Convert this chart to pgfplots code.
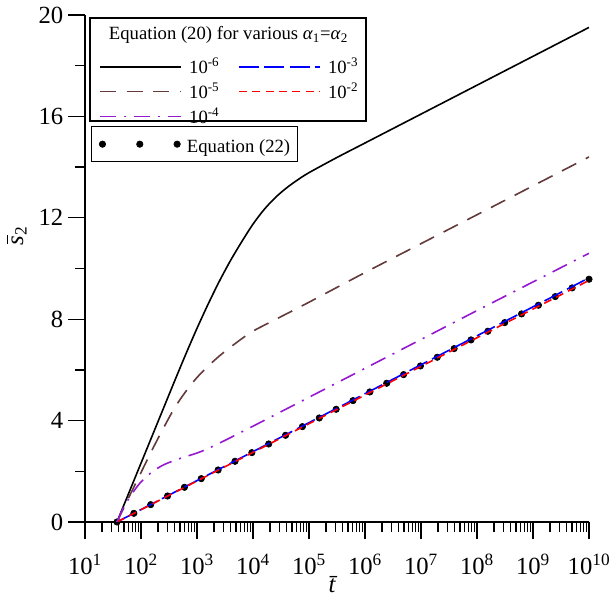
\documentclass[border=0pt]{standalone}
\usepackage{fontspec}
\setmainfont{Liberation Serif}
\usepackage{pgfplots}
\pgfplotsset{compat=1.18}
\definecolor{cbrown}{RGB}{100,58,58}
\definecolor{cpurple}{RGB}{150,25,210}
\newcommand{\sbar}{\textit{s}\llap{\raisebox{0.6em}{\rule{0.34em}{0.05em}}\kern-0.03em}}
\begin{document}
\begin{tikzpicture}
% --- Equation (22) dots (drawn first, below the lines)
\begin{axis}[scale only axis, width=378pt, height=380.25pt,
  xmode=log, xmin=10, xmax=1e10, ymin=0, ymax=20,
  hide axis, clip=false,
  legend style={at={(rel axis cs:0.0119,0.7811)}, anchor=north west, draw=black, line width=1pt,
    font=\fontsize{14}{16.8}\selectfont, inner xsep=5.7pt, inner ysep=5.5pt,
    nodes={inner sep=0pt}, /tikz/every odd column/.append style={column sep=5pt}},
]
\addplot[only marks, mark=*, mark size=2.4pt, black, line width=0.5pt,
  legend image code/.code={\draw plot[only marks] coordinates {(0pt,0pt) (28pt,0pt) (56pt,0pt)};}]
coordinates {
(37.25,0) (74.5,0.342) (149,0.684) (298,1.026) (596,1.368) (1192,1.71) (2384,2.052)
(4768,2.394) (9536,2.736) (19072,3.078) (38144,3.42) (76288,3.762) (152576,4.104)
(305152,4.446) (610304,4.788) (1220608,5.13) (2441216,5.472) (4882432,5.814)
(9764864,6.156) (19529728,6.498) (39059456,6.84) (78118912,7.182) (156237824,7.524)
(312475648,7.866) (624951296,8.208) (1249902592,8.55) (2499805184,8.892)
(4999610368,9.234) (9999220736,9.576)
};
\addlegendentry{\rule[-3pt]{0pt}{16.8pt}Equation (22)}
\end{axis}
% --- main axis, Equation (20)
\begin{axis}[scale only axis, width=378pt, height=380.25pt,
  xmode=log, xmin=10, xmax=1e10, ymin=0, ymax=20,
  axis lines*=left, axis line style={line width=1pt},
  tick align=outside, major tick length=12.75pt, minor tick length=7.5pt,
  every tick/.style={line width=1pt, black},
  xtick={1e1,1e2,1e3,1e4,1e5,1e6,1e7,1e8,1e9,1e10},
  xticklabels={10\textsuperscript{1},10\textsuperscript{2},10\textsuperscript{3},10\textsuperscript{4},10\textsuperscript{5},10\textsuperscript{6},10\textsuperscript{7},10\textsuperscript{8},10\textsuperscript{9},10\textsuperscript{10}},
  minor xtick={2e1,3e1,4e1,5e1,6e1,7e1,8e1,9e1,
    2e2,3e2,4e2,5e2,6e2,7e2,8e2,9e2,
    2e3,3e3,4e3,5e3,6e3,7e3,8e3,9e3,
    2e4,3e4,4e4,5e4,6e4,7e4,8e4,9e4,
    2e5,3e5,4e5,5e5,6e5,7e5,8e5,9e5,
    2e6,3e6,4e6,5e6,6e6,7e6,8e6,9e6,
    2e7,3e7,4e7,5e7,6e7,7e7,8e7,9e7,
    2e8,3e8,4e8,5e8,6e8,7e8,8e8,9e8,
    2e9,3e9,4e9,5e9,6e9,7e9,8e9,9e9},
  ytick={0,4,8,12,16,20}, minor ytick={2,6,10,14,18},
  tick label style={font=\fontsize{18.5}{22}\selectfont},
  xticklabel style={yshift=-8pt},
  /pgf/number format/assume math mode=true,
  xlabel={\textit{\=t}}, ylabel={\sbar\textsubscript{2}},
  label style={font=\fontsize{18.5}{22}\selectfont},
  xlabel style={at={(axis description cs:0.496,-0.14)}, anchor=base},
  ylabel style={at={(axis description cs:-0.135,0.564)}, anchor=center},
  legend columns=2, legend cell align=left,
  legend style={at={(rel axis cs:0.00992,0.917)}, anchor=north west, draw=none, fill=none,
    font=\fontsize{14}{16.8}\selectfont, inner xsep=6.75pt, inner ysep=0.5pt, row sep=5.4pt,
    nodes={inner sep=0pt},
    /tikz/every odd column/.append style={column sep=5.5pt},
    /tikz/every even column/.append style={column sep=14pt}},
  legend image code/.code={\draw (0pt,0pt) -- (60.75pt,0pt);},
]
% 1e-6
\addplot[black, line width=1.2pt, smooth] coordinates {
(37.24,0) (63.1,1.24) (100,2.32) (158.5,3.4) (251.2,4.48) (398.1,5.56) (631,6.62)
(1000,7.64) (1585,8.6) (2512,9.5) (3981,10.32) (6310,11.06) (10000,11.75)
(15849,12.33) (25119,12.8) (39811,13.18) (63096,13.5) (1e5,13.78) (316228,14.38)
(1e6,14.95) (1e7,16.09) (1e8,17.23) (1e9,18.37) (1e10,19.51)
};
\addlegendentry{\rule[-2.7pt]{0pt}{13.7pt}10\textsuperscript{-6}}
% 1e-3
\addplot[blue, line width=1.2pt, dash pattern=on 15pt off 4pt] coordinates {
(37.24,0) (1e10,9.63)
};
\addlegendentry{\rule[-2.7pt]{0pt}{13.7pt}10\textsuperscript{-3}}
% 1e-5
\addplot[cbrown, line width=1.2pt, dash pattern=on 12pt off 8pt, smooth] coordinates {
(37.24,0) (63.1,1.05) (100,1.95) (158.5,2.85) (251.2,3.7) (398.1,4.5) (631,5.15)
(1000,5.7) (1585,6.15) (2512,6.55) (3981,6.9) (6310,7.23) (10000,7.53) (31623,8.1)
(1e5,8.67) (1e6,9.84) (1e7,10.98) (1e8,12.12) (1e9,13.26) (1e10,14.4)
};
\addlegendentry{\rule[-2.7pt]{0pt}{13.7pt}10\textsuperscript{-5}}
% 1e-2
\addplot[red, line width=1.2pt, dash pattern=on 6pt off 4pt] coordinates {
(37.24,0) (1e10,9.53)
};
\addlegendentry{\rule[-2.7pt]{0pt}{13.7pt}10\textsuperscript{-2}}
% 1e-4
\addplot[cpurple, line width=1.2pt, dash pattern=on 12pt off 6pt on 1.5pt off 6pt, smooth] coordinates {
(37.24,0) (50.1,0.62) (70.8,1.15) (100,1.58) (158.5,1.98) (251.2,2.25) (398.1,2.43)
(631,2.58) (1000,2.72) (1585,2.9) (3162,3.22) (10000,3.78) (1e5,4.92) (1e6,6.06)
(1e7,7.2) (1e8,8.34) (1e9,9.47) (1e10,10.6)
};
\addlegendentry{\rule[-2.7pt]{0pt}{13.7pt}10\textsuperscript{-4}}
% legend frame and title
\draw[line width=1pt, fill=white] (rel axis cs:0.00992,0.99408) rectangle (rel axis cs:0.5575,0.7909);
\node[anchor=base, inner sep=0pt, font=\fontsize{14}{16.8}\selectfont] at (rel axis cs:0.2847,0.951)
  {Equation (20) for various \textit{α}\textsubscript{1}=\textit{α}\textsubscript{2}};
\end{axis}
\pgfresetboundingbox
\path[use as bounding box] (-63.75pt,-57pt) rectangle (394.5pt,391.5pt);
\end{tikzpicture}
\end{document}
